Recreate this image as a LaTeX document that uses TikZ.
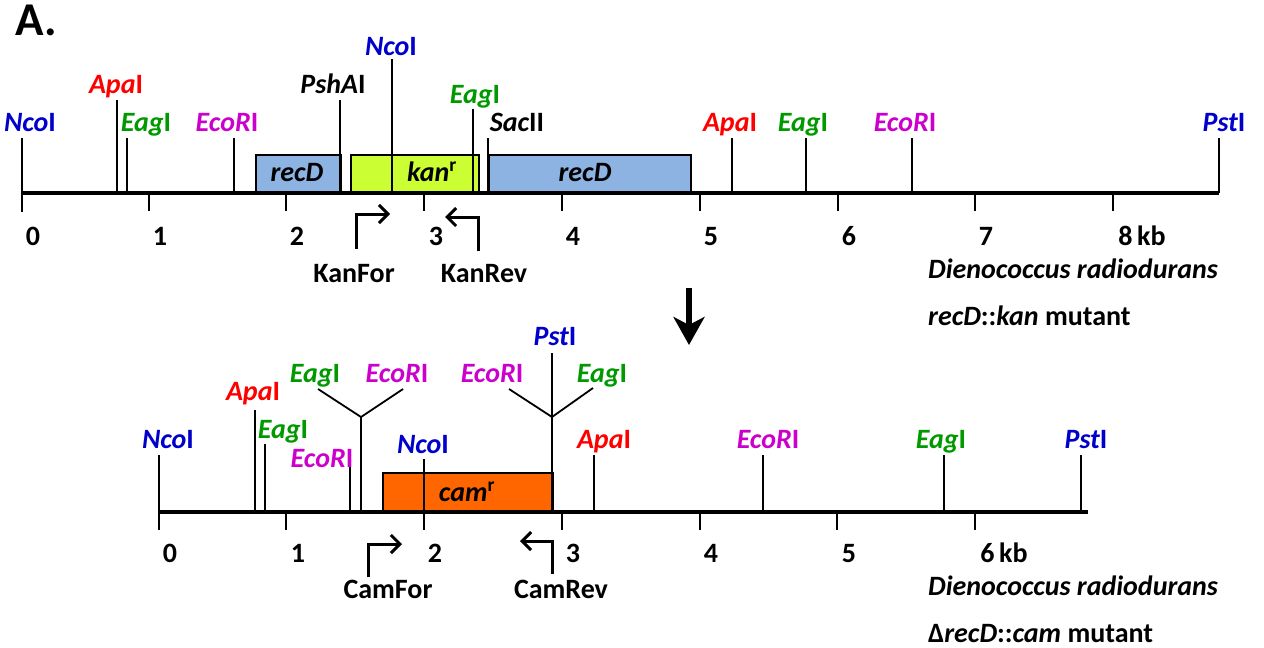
\documentclass[tikz,border=0pt]{standalone}
\usepackage{fontspec}
\setmainfont{Carlito}
\usetikzlibrary{arrows.meta}
\definecolor{cblue}{HTML}{0000CC}
\definecolor{cred}{HTML}{FF0000}
\definecolor{cgreen}{HTML}{009900}
\definecolor{cmag}{HTML}{CC00CC}
\definecolor{recdfill}{HTML}{8DB3E2}
\definecolor{kanfill}{HTML}{CCFF33}
\definecolor{camfill}{HTML}{FF6600}
\newcommand\mysite[4]{\coordinate (#1t) at (#2,#3); \coordinate (#1b) at (#2,#4); \draw[siteline] (#1t) -- (#1b);}
\newcommand\mytick[3]{\coordinate (#1t) at (#2,#3); \coordinate (#1b) at ([yshift=-18]#1t); \draw[siteline] (#1t) -- (#1b);}
\begin{document}
\begin{tikzpicture}[x=1pt,y=-1pt,
  lbl/.style={anchor=base,inner sep=0pt,font=\fontsize{28}{32}\selectfont\bfseries},
  lblw/.style={lbl,anchor=base west},
  siteline/.style={line width=1.8pt,black},
  axis/.style={line width=3.8pt,black},
  genebox/.style={draw=black,line width=1.8pt},
  primer/.style={line width=3pt,-{Straight Barb[length=9pt,width=18pt,line width=3pt]}},
  bigarrow/.style={line width=6pt,-{Stealth[length=28pt,width=31pt,inset=8pt]}}]
\useasboundingbox (0,0) rectangle (1264,648);
\node[lblw,font=\fontsize{47}{52}\selectfont\bfseries] (title) at (15,35) {A.};
% ---------- top map ----------
\node[genebox,fill=recdfill,minimum width=85pt,minimum height=37pt,anchor=south west,inner sep=0pt] (recd1) at (255,193) {};
\node[genebox,fill=kanfill,minimum width=128pt,minimum height=37pt,anchor=south west,inner sep=0pt] (kan) at (350,193) {};
\node[genebox,fill=recdfill,minimum width=202pt,minimum height=37pt,anchor=south west,inner sep=0pt] (recd2) at (488,193) {};
\node[lbl] (recd1l) at (297,181) {\itshape recD};
\node[lbl] (kanl) at (432,181) {\itshape kan\textsuperscript{\upshape r}};
\node[lbl] (recd2l) at (585,181) {\itshape recD};
\coordinate (axAl) at (22,193); \coordinate (axAr) at (1219,193);
\draw[axis] (axAl) -- (axAr);
\mysite{sA1}{22}{138}{212}
\mysite{sA2}{117}{100}{193}
\mysite{sA3}{127}{138}{193}
\mysite{sA4}{234}{138}{193}
\mysite{sA5}{340}{100}{193}
\mysite{sA6}{392}{59}{193}
\mysite{sA7}{473}{109}{193}
\mysite{sA8}{488}{138}{193}
\mysite{sA9}{732}{138}{193}
\mysite{sA10}{806}{138}{193}
\mysite{sA11}{912}{138}{193}
\mysite{sA12}{1219}{138}{193}
\mytick{tA1}{149}{193} \mytick{tA2}{286}{193} \mytick{tA3}{424}{193} \mytick{tA4}{562}{193}
\mytick{tA5}{700}{193} \mytick{tA6}{838}{193} \mytick{tA7}{975}{193} \mytick{tA8}{1113}{193}
\node[lbl,text=cblue] (lA1) at (30,131) {\itshape Nco\upshape I};
\node[lbl,text=cred] (lA2) at (116,93) {\itshape Apa\upshape I};
\node[lbl,text=cgreen] (lA3) at (146,131) {\itshape Eag\upshape I};
\node[lbl,text=cmag] (lA4) at (227,131) {\itshape EcoR\upshape I};
\node[lbl] (lA5) at (333,93) {\itshape PshA\upshape I};
\node[lbl,text=cblue] (lA6) at (391,55) {\itshape Nco\upshape I};
\node[lbl,text=cgreen] (lA7) at (475,103) {\itshape Eag\upshape I};
\node[lbl] (lA8) at (517,131) {\itshape Sac\upshape II};
\node[lbl,text=cred] (lA9) at (730,131) {\itshape Apa\upshape I};
\node[lbl,text=cgreen] (lA10) at (803,131) {\itshape Eag\upshape I};
\node[lbl,text=cmag] (lA11) at (905,131) {\itshape EcoR\upshape I};
\node[lbl,text=cblue] (lA12) at (1224,131) {\itshape Pst\upshape I};
\node[lbl] (nA0) at (33,245) {0};
\node[lbl] (nA1) at (160,245) {1};
\node[lbl] (nA2) at (297,245) {2};
\node[lbl] (nA3) at (436,245) {3};
\node[lbl] (nA4) at (573,245) {4};
\node[lbl] (nA5) at (711,245) {5};
\node[lbl] (nA6) at (849,245) {6};
\node[lbl] (nA7) at (986,245) {7};
\node[lbl] (nA8) at (1142,245) {8\,kb};
\coordinate (kfA) at (356,249); \coordinate (kfB) at (356,214); \coordinate (kfC) at (390,214);
\draw[primer] (kfA) -- (kfB) -- (kfC);
\coordinate (krA) at (478,251); \coordinate (krB) at (478,217); \coordinate (krC) at (445,217);
\draw[primer] (krA) -- (krB) -- (krC);
\node[lbl] (kanfor) at (354,282) {KanFor};
\node[lbl] (kanrev) at (484,282) {KanRev};
\node[lblw] (orgA) at (928,278) {\itshape Dienococcus radiodurans};
\node[lblw] (mutA) at (928,325) {\itshape recD\upshape::\itshape kan\upshape{} mutant};
% ---------- arrow ----------
\coordinate (arT) at (689,288); \coordinate (arB) at (689,345);
\draw[bigarrow] (arT) -- (arB);
% ---------- bottom map ----------
\node[genebox,fill=camfill,minimum width=170pt,minimum height=38pt,anchor=south west,inner sep=0pt] (cam) at (382,512) {};
\node[lbl] (caml) at (467,501) {\itshape cam\textsuperscript{\upshape r}};
\coordinate (axBl) at (159,512); \coordinate (axBr) at (1088,512);
\draw[axis] (axBl) -- (axBr);
\mysite{sB1}{159}{455}{530}
\mysite{sB2}{255}{410}{512}
\mysite{sB3}{265}{444}{512}
\mysite{sB4}{350}{466}{512}
\mysite{sB5}{361}{417}{512}
\coordinate (yB1l) at (318,389); \coordinate (yB1r) at (403,389);
\draw[siteline] (yB1l) -- (sB5t) -- (yB1r);
\mysite{sB6}{424}{459}{530}
\mysite{sB7}{552}{353}{512}
\coordinate (yB2m) at (552,417); \coordinate (yB2l) at (509,389); \coordinate (yB2r) at (593,388);
\draw[siteline] (yB2l) -- (yB2m) -- (yB2r);
\mysite{sB8}{594}{455}{512}
\mysite{sB9}{763}{455}{512}
\mysite{sB10}{944}{455}{512}
\mysite{sB11}{1081}{455}{512}
\mytick{tB1}{286}{512} \mytick{tB3}{562}{512} \mytick{tB4}{700}{512}
\mytick{tB5}{837}{512} \mytick{tB6}{975}{512}
\node[lbl,text=cblue] (lB1) at (168,448) {\itshape Nco\upshape I};
\node[lbl,text=cred] (lB2) at (253,400) {\itshape Apa\upshape I};
\node[lbl,text=cgreen] (lB3) at (283,438) {\itshape Eag\upshape I};
\node[lbl,text=cmag] (lB4) at (322,467) {\itshape EcoR\upshape I};
\node[lbl,text=cgreen] (lB5a) at (315,382) {\itshape Eag\upshape I};
\node[lbl,text=cmag] (lB5b) at (397,382) {\itshape EcoR\upshape I};
\node[lbl,text=cblue] (lB6) at (423,453) {\itshape Nco\upshape I};
\node[lbl,text=cblue] (lB7) at (555,345) {\itshape Pst\upshape I};
\node[lbl,text=cmag] (lB7a) at (492,382) {\itshape EcoR\upshape I};
\node[lbl,text=cgreen] (lB7b) at (602,382) {\itshape Eag\upshape I};
\node[lbl,text=cred] (lB8) at (604,448) {\itshape Apa\upshape I};
\node[lbl,text=cmag] (lB9) at (768,448) {\itshape EcoR\upshape I};
\node[lbl,text=cgreen] (lB10) at (941,448) {\itshape Eag\upshape I};
\node[lbl,text=cblue] (lB11) at (1086,448) {\itshape Pst\upshape I};
\node[lbl] (nB0) at (170,562) {0};
\node[lbl] (nB1) at (298,562) {1};
\node[lbl] (nB2) at (435,562) {2};
\node[lbl] (nB3) at (573,562) {3};
\node[lbl] (nB4) at (711,562) {4};
\node[lbl] (nB5) at (849,562) {5};
\node[lbl] (nB6) at (1004,562) {6\,kb};
\coordinate (cfA) at (368,577); \coordinate (cfB) at (368,544); \coordinate (cfC) at (402,544);
\draw[primer] (cfA) -- (cfB) -- (cfC);
\coordinate (crA) at (552,574); \coordinate (crB) at (552,541); \coordinate (crC) at (520,541);
\draw[primer] (crA) -- (crB) -- (crC);
\node[lbl] (camfor) at (388,598) {CamFor};
\node[lbl] (camrev) at (561,598) {CamRev};
\node[lblw] (orgB) at (928,595) {\itshape Dienococcus radiodurans};
\node[lblw] (mutB) at (928,642) {Δ\itshape recD\upshape::\itshape cam\upshape{} mutant};
\end{tikzpicture}
\end{document}
